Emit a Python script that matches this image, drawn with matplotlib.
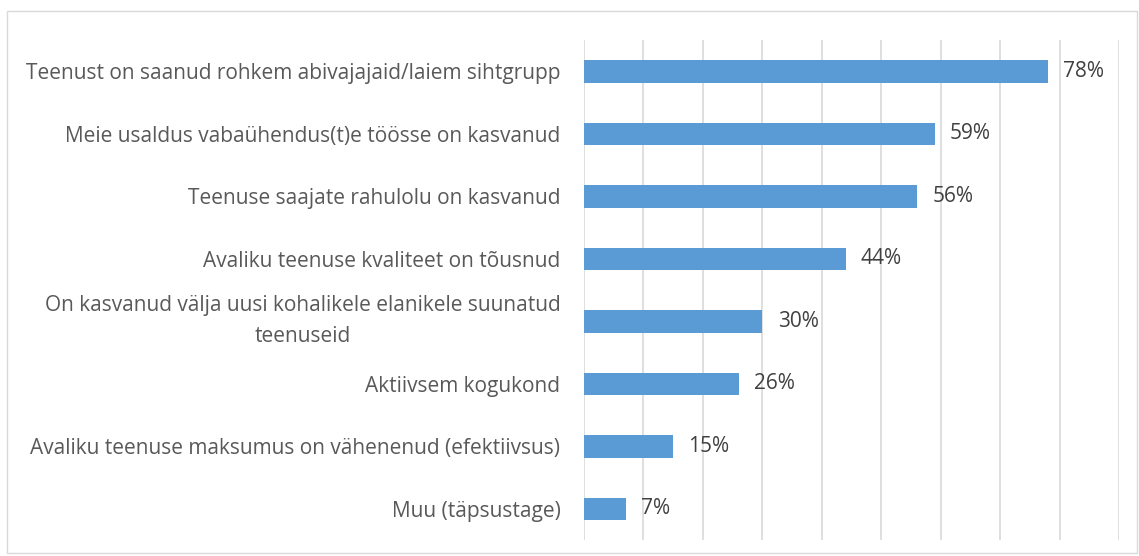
import numpy as np
import matplotlib.pyplot as plt
from matplotlib.patches import Rectangle

plt.rcParams['font.family'] = ['Open Sans', 'DejaVu Sans']

# andmed (ülevalt alla)
kategooriad = [
    'Teenust on saanud rohkem abivajajaid/laiem sihtgrupp',
    'Meie usaldus vabaühendus(t)e töösse on kasvanud',
    'Teenuse saajate rahulolu on kasvanud',
    'Avaliku teenuse kvaliteet on tõusnud',
    'On kasvanud välja uusi kohalikele elanikele suunatud\nteenuseid',
    'Aktiivsem kogukond',
    'Avaliku teenuse maksumus on vähenenud (efektiivsus)',
    'Muu (täpsustage)',
]
osakaal = [0.78, 0.59, 0.56, 0.44, 0.30, 0.26, 0.15, 0.07]

fig = plt.figure(figsize=(11.39, 5.56), dpi=100)
ax = fig.add_axes([584/1139, 1 - 540/556, (1119-584)/1139, 500/556])

# raam ümber graafiku
fig.patches.append(Rectangle((7/1139, 3/556), 1130/1139, 542/556, transform=fig.transFigure,
                             fill=False, edgecolor='#d9d9d9', linewidth=1))

y = np.arange(len(kategooriad))
ax.barh(y, osakaal, height=0.36, color='#5b9bd5', zorder=3)
for yi, v in zip(y, osakaal):
    ax.annotate(f'{v*100:.0f}%', (v, yi), xytext=(11, 0), textcoords='offset points',
                va='center', ha='left', fontsize=15, color='#404040')

ax.set_xlim(0, 0.9)
ax.set_ylim(len(kategooriad) - 0.5, -0.5)
ax.set_xticks(np.arange(0, 0.91, 0.1))
ax.xaxis.grid(True, color='#d9d9d9', linewidth=1.2, zorder=0)
ax.tick_params(axis='x', length=0, labelbottom=False)
ax.tick_params(axis='y', length=0, pad=17)
ax.set_yticks(y)
labels = ax.set_yticklabels(kategooriad, fontsize=15, color='#595959', multialignment='center',
                            linespacing=1.6)
for t in labels:
    if '\n' in t.get_text():
        t.set_va('center')
for s in ax.spines.values():
    s.set_visible(False)

fig.savefig('out.png', dpi=100)
